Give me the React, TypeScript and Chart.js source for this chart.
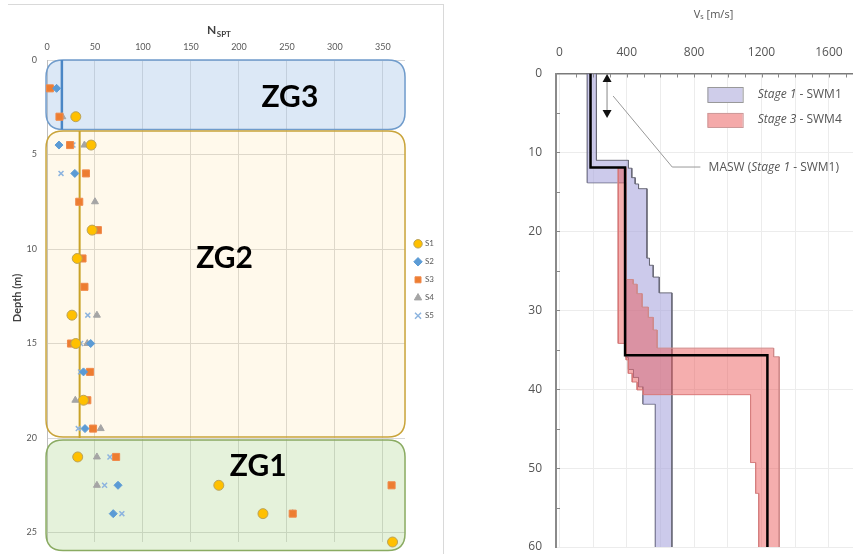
import React, { useEffect, useRef } from 'react';
import { Chart, registerables } from 'chart.js';

Chart.register(...registerables);

const FONT = 'Lato, "Open Sans", sans-serif';
const FONT_R = '"Open Sans", "Noto Sans", sans-serif';

// ---------------- Left panel: N_SPT vs depth ----------------
const DEPTHS = [1.5, 3, 4.5, 6, 7.5, 9, 10.5, 12, 13.5, 15, 16.5, 18, 19.5, 21, 22.5, 24, 25.5];
const S1 = [null, 30, 46, null, null, 47, 31.5, null, 26, 30, null, 38, null, 32, 179, 225, 360];
const S2 = [10, null, 12.5, 29, null, null, null, null, null, 45.5, 38, null, 39.6, null, 74, 69, null];
const S3 = [3, 13, 24, 40.6, 33.6, 53, 37, 39, null, 25, 44.8, 42, 48, 72, 359, 256, null];
const S4 = [null, 16, 39, null, 50, null, null, null, 52, 42, null, 29.5, 56, 52, 52, 256, null];
const S5 = [5, 14, 27, 14.6, 33, null, null, null, 42.5, 35, 35, null, 32.6, 65.6, 60, 78, null];
const SERIES_NAMES = ['S1', 'S2', 'S3', 'S4', 'S5'];

const NSPT_TICKS = [0, 50, 100, 150, 200, 250, 300, 350];
const DEPTH_TICKS = [0, 5, 10, 15, 20, 25];

const ZONE_NAMES = ['ZG3', 'ZG2', 'ZG1'];
const ZONE_TOP = [0, 3.75, 20.1];
const ZONE_BOTTOM = [3.68, 19.95, 25.95];
const ZONE_FILL = ['rgba(155,190,230,0.35)', 'rgba(255,215,120,0.15)', 'rgba(150,205,110,0.25)'];
const ZONE_STROKE = ['#6f9bcb', '#c9a43a', '#8aab62'];
const ZONE_LABEL_X = [253, 185, 220];
const ZONE_LABEL_DEPTH = [1.95, 10.5, 21.5];

const AVG_VALUE = [15.5, 34];
const AVG_TOP = [0, 3.75];
const AVG_BOTTOM = [3.68, 20.0];

// ---------------- Right panel: Vs profiles ----------------
const MASW_VS = [185, 185, 390, 390, 1235, 1235];
const MASW_DEPTH = [0, 11.9, 11.9, 35.7, 35.7, 60];

const ST1_UP_VS = [220, 220, 410, 410, 430, 430, 450, 450, 470, 470, 520, 520, 535, 535, 557, 557, 593, 593, 668, 668];
const ST1_UP_D = [0, 11.0, 11.0, 12.0, 12.0, 13.2, 13.2, 14.0, 14.0, 14.6, 14.6, 23.4, 23.4, 24.3, 24.3, 25.8, 25.8, 27.8, 27.8, 60];
const ST1_LO_VS = [166, 166, 395, 395, 410, 410, 440, 440, 470, 470, 497, 497, 570, 570];
const ST1_LO_D = [0, 13.85, 13.85, 36.0, 36.0, 37.5, 37.5, 38.5, 38.5, 39.7, 39.7, 41.9, 41.9, 60];

const ST3_UP_VS = [395, 395, 438, 438, 461, 461, 491, 491, 528, 528, 557, 557, 580, 580, 1272, 1272, 1305, 1305];
const ST3_UP_D = [11.9, 26.1, 26.1, 26.7, 26.7, 27.9, 27.9, 29.6, 29.6, 30.9, 30.9, 32.5, 32.5, 34.8, 34.8, 35.9, 35.9, 60];
const ST3_LO_VS = [349, 349, 396, 396, 409, 409, 432, 432, 461, 461, 497, 497, 1135, 1135, 1165, 1165, 1183, 1183];
const ST3_LO_D = [11.9, 34.2, 34.2, 36.3, 36.3, 38.0, 38.0, 39.1, 39.1, 40.1, 40.1, 40.7, 40.7, 49.3, 49.3, 53.2, 53.2, 60];

const VS_GRID_TICKS = [0, 200, 400, 600, 800, 1000, 1200, 1400, 1600, 1800];
const VS_MINOR_TICKS = [100, 200, 300, 400, 500, 600, 700, 800, 900, 1000, 1100, 1200, 1300, 1400, 1500, 1600, 1700, 1800];
const VS_DEPTH_TICKS = [0, 10, 20, 30, 40, 50, 60];
const VS_DEPTH_MINOR = [5, 10, 15, 20, 25, 30, 35, 40, 45, 50, 55];

// annotation anchors (data units)
const ARROW_VS = 283;
const ARROW_DEPTH = [0.05, 5.65];
const LEADER_VS = [319, 670, 837];
const LEADER_DEPTH = [2.85, 11.85, 11.85];
const MASW_LABEL = { vs: 886, depth: 11.97 };
const LEGEND_BOX_VS = [879, 1088];
const LEGEND_BOX_D = [[1.71, 3.61], [5.0, 6.78]];
const LEGEND_TEXT_VS = 1177;
const LEGEND_TEXT_D = [2.72, 5.9];
const LEGEND_STAGE = ['Stage 1', 'Stage 3'];
const LEGEND_REST = [' - SWM1', ' - SWM4'];

const toSeries = (vals: (number | null)[]) =>
  DEPTHS.map((d, i) => (vals[i] == null ? null : { x: vals[i] as number, y: d })).filter(Boolean) as { x: number; y: number }[];
const pts = (xs: number[], ys: number[]) => xs.map((x, i) => ({ x, y: ys[i] }));

const noPad = (s: any) => {
  s.paddingTop = 0;
  s.paddingBottom = 0;
  s.paddingLeft = 0;
  s.paddingRight = 0;
};

function roundRect(ctx: CanvasRenderingContext2D, x: number, y: number, w: number, h: number, r: number) {
  ctx.beginPath();
  ctx.moveTo(x + r, y);
  ctx.lineTo(x + w - r, y);
  ctx.quadraticCurveTo(x + w, y, x + w, y + r);
  ctx.lineTo(x + w, y + h - r);
  ctx.quadraticCurveTo(x + w, y + h, x + w - r, y + h);
  ctx.lineTo(x + r, y + h);
  ctx.quadraticCurveTo(x, y + h, x, y + h - r);
  ctx.lineTo(x, y + r);
  ctx.quadraticCurveTo(x, y, x + r, y);
  ctx.closePath();
}

const leftPlugin = {
  id: 'leftZones',
  beforeDatasetsDraw(chart: any) {
    const { ctx, scales } = chart;
    const x = scales.x, y = scales.y;
    ctx.save();
    ZONE_NAMES.forEach((_, i) => {
      const x0 = x.getPixelForValue(-1);
      const x1 = x.getPixelForValue(373);
      const y0 = y.getPixelForValue(ZONE_TOP[i]);
      const y1 = y.getPixelForValue(ZONE_BOTTOM[i]);
      roundRect(ctx, x0, y0, x1 - x0, y1 - y0, 17);
      ctx.fillStyle = ZONE_FILL[i];
      ctx.fill();
      ctx.lineWidth = 1.5;
      ctx.strokeStyle = ZONE_STROKE[i];
      ctx.stroke();
    });
    ctx.restore();
  },
  afterDatasetsDraw(chart: any) {
    const { ctx, scales, chartArea } = chart;
    const x = scales.x, y = scales.y;
    ctx.save();
    ctx.fillStyle = '#000';
    ctx.font = `bold 30px ${FONT}`;
    ctx.textAlign = 'center';
    ctx.textBaseline = 'middle';
    ZONE_NAMES.forEach((n, i) => {
      ctx.fillText(n, x.getPixelForValue(ZONE_LABEL_X[i]), y.getPixelForValue(ZONE_LABEL_DEPTH[i]));
    });
    // axis titles
    ctx.fillStyle = '#404040';
    ctx.textAlign = 'left';
    ctx.textBaseline = 'alphabetic';
    ctx.font = `bold 12px ${FONT}`;
    const nx = chartArea.left + 160;
    ctx.fillText('N', nx, 34);
    const nw = ctx.measureText('N').width;
    ctx.font = `bold 8px ${FONT}`;
    ctx.fillText('SPT', nx + nw + 0.5, 37);
    ctx.save();
    ctx.translate(17, 298);
    ctx.rotate(-Math.PI / 2);
    ctx.textAlign = 'center';
    ctx.textBaseline = 'middle';
    ctx.font = `bold 11px ${FONT}`;
    ctx.fillText('Depth (m)', 0, 0);
    ctx.restore();
    ctx.restore();
  },
};

const rightPlugin = {
  id: 'rightAnnot',
  afterDatasetsDraw(chart: any) {
    const { ctx, scales, chartArea } = chart;
    const x = scales.x, y = scales.y;
    ctx.save();
    // inward minor ticks
    ctx.strokeStyle = '#888';
    ctx.lineWidth = 1;
    VS_MINOR_TICKS.forEach((v) => {
      const px = Math.round(x.getPixelForValue(v)) + 0.5;
      ctx.beginPath();
      ctx.moveTo(px, chartArea.top);
      ctx.lineTo(px, chartArea.top + 4);
      ctx.stroke();
    });
    VS_DEPTH_MINOR.forEach((d) => {
      const py = Math.round(y.getPixelForValue(d)) + 0.5;
      ctx.beginPath();
      ctx.moveTo(chartArea.left, py);
      ctx.lineTo(chartArea.left + 4, py);
      ctx.stroke();
    });
    // double arrow
    const ax = x.getPixelForValue(ARROW_VS);
    const ay1 = y.getPixelForValue(ARROW_DEPTH[0]);
    const ay2 = y.getPixelForValue(ARROW_DEPTH[1]);
    ctx.strokeStyle = '#888';
    ctx.beginPath();
    ctx.moveTo(ax, ay1 + 6);
    ctx.lineTo(ax, ay2 - 6);
    ctx.stroke();
    ctx.fillStyle = '#111';
    ctx.beginPath();
    ctx.moveTo(ax, ay1);
    ctx.lineTo(ax - 4.5, ay1 + 8);
    ctx.lineTo(ax + 4.5, ay1 + 8);
    ctx.closePath();
    ctx.fill();
    ctx.beginPath();
    ctx.moveTo(ax, ay2);
    ctx.lineTo(ax - 4.5, ay2 - 8);
    ctx.lineTo(ax + 4.5, ay2 - 8);
    ctx.closePath();
    ctx.fill();
    // leader line
    ctx.strokeStyle = '#999';
    ctx.beginPath();
    LEADER_VS.forEach((v, i) => {
      const px = x.getPixelForValue(v), py = y.getPixelForValue(LEADER_DEPTH[i]);
      if (i === 0) ctx.moveTo(px, py); else ctx.lineTo(px, py);
    });
    ctx.stroke();
    // mixed-style text helper
    const drawMixed = (parts: [string, boolean][], px: number, py: number) => {
      let cx = px;
      parts.forEach(([t, it]) => {
        ctx.font = `${it ? 'italic ' : ''}12px ${FONT_R}`;
        ctx.fillText(t, cx, py);
        cx += ctx.measureText(t).width;
      });
    };
    ctx.fillStyle = '#555';
    ctx.textBaseline = 'middle';
    ctx.textAlign = 'left';
    drawMixed([['MASW (', false], ['Stage 1', true], [' - SWM1)', false]], x.getPixelForValue(MASW_LABEL.vs), y.getPixelForValue(MASW_LABEL.depth));
    // legend boxes
    const boxFill = ['#cfcdea', '#f4a9a9'];
    const boxStroke = ['#999', '#c99'];
    LEGEND_BOX_D.forEach((dd, i) => {
      const bx0 = x.getPixelForValue(LEGEND_BOX_VS[0]);
      const bx1 = x.getPixelForValue(LEGEND_BOX_VS[1]);
      const by0 = y.getPixelForValue(dd[0]);
      const by1 = y.getPixelForValue(dd[1]);
      ctx.fillStyle = boxFill[i];
      ctx.fillRect(bx0, by0, bx1 - bx0, by1 - by0);
      ctx.strokeStyle = boxStroke[i];
      ctx.strokeRect(bx0 + 0.5, by0 + 0.5, bx1 - bx0, by1 - by0);
      ctx.fillStyle = '#555';
      drawMixed([[LEGEND_STAGE[i], true], [LEGEND_REST[i], false]], x.getPixelForValue(LEGEND_TEXT_VS), y.getPixelForValue(LEGEND_TEXT_D[i]));
    });
    ctx.restore();
  },
};

function LeftChart() {
  const ref = useRef<HTMLCanvasElement>(null);
  useEffect(() => {
    const colors = ['#ffc000', '#5b9bd5', '#ed7d31', '#a5a5a5', '#9dc3e6'];
    const borders = ['#b9a25a', '#5b9bd5', '#f08a4b', '#a5a5a5', '#8db4df'];
    const styles = ['circle', 'rectRot', 'rect', 'triangle', 'crossRot'];
    const radii = [5, 4, 5, 4, 3.5];
    const vals = [S1, S2, S3, S4, S5];
    const datasets: any[] = vals.map((v, i) => ({
      label: SERIES_NAMES[i],
      data: toSeries(v),
      backgroundColor: colors[i],
      borderColor: borders[i],
      borderWidth: i === 4 ? 1.5 : 1,
      pointStyle: styles[i],
      pointRadius: radii[i],
      clip: false,
      order: 1,
    }));
    AVG_VALUE.forEach((v, i) => {
      datasets.push({
        label: 'avg' + i,
        data: [{ x: v, y: AVG_TOP[i] }, { x: v, y: AVG_BOTTOM[i] }],
        showLine: true,
        borderColor: i === 0 ? '#4a86c5' : '#c9a227',
        borderWidth: i === 0 ? 2.5 : 2,
        pointRadius: 0,
        order: 2,
      });
    });
    const chart = new Chart(ref.current as HTMLCanvasElement, {
      type: 'scatter',
      data: { datasets },
      plugins: [leftPlugin],
      options: {
        animation: false,
        responsive: false,
        maintainAspectRatio: false,
        layout: { padding: { left: 0, right: 0, top: 0, bottom: 12 } },
        plugins: {
          tooltip: { enabled: false },
          legend: {
            position: 'right',
            align: 'center',
            title: { display: true, text: ' ', font: { size: 8 }, padding: 4 },
            labels: {
              usePointStyle: true,
              boxWidth: 6,
              boxHeight: 6,
              padding: 10,
              color: '#595959',
              font: { size: 8, family: FONT },
              filter: (item: any) => item.datasetIndex < 5,
            },
          },
        },
        scales: {
          x: {
            type: 'linear',
            position: 'top',
            min: 0,
            max: 373,
            afterBuildTicks: (s: any) => { s.ticks = NSPT_TICKS.map((v) => ({ value: v })); },
            afterFit: (s: any) => { s.height = 60; noPad(s); },
            grid: { color: '#d9d9d9', drawTicks: false },
            border: { display: false },
            ticks: { padding: 8, color: '#595959', font: { size: 9, family: FONT } },
          },
          y: {
            type: 'linear',
            reverse: true,
            min: 0,
            max: 25.5,
            afterBuildTicks: (s: any) => { s.ticks = DEPTH_TICKS.map((v) => ({ value: v })); },
            afterFit: (s: any) => { s.width = 47; noPad(s); },
            grid: { color: '#d9d9d9', drawTicks: false },
            border: { display: true, color: '#bfbfbf' },
            ticks: { padding: 10, color: '#595959', font: { size: 9, family: FONT } },
          },
        },
      } as any,
    });
    return () => chart.destroy();
  }, []);
  return <canvas ref={ref} width={444} height={554} style={{ position: 'absolute', left: 0, top: 0, width: 444, height: 554 }} />;
}

function RightChart() {
  const ref = useRef<HTMLCanvasElement>(null);
  useEffect(() => {
    const line = (xs: number[], ys: number[], extra: any) => ({
      data: pts(xs, ys),
      pointRadius: 0,
      tension: 0,
      ...extra,
    });
    const pinkEdge = '#cf8a8a';
    const purpleEdge = '#6a6a78';
    const chart = new Chart(ref.current as HTMLCanvasElement, {
      type: 'line',
      data: {
        datasets: [
          line(MASW_VS, MASW_DEPTH, { label: 'MASW (Stage 1 - SWM1)', borderColor: '#000', borderWidth: 2.5, fill: false }),
          line(ST3_UP_VS, ST3_UP_D, { label: 'Stage 3 - SWM4 up', borderColor: pinkEdge, borderWidth: 1, fill: '+1', backgroundColor: 'rgba(235,85,85,0.48)' }),
          line(ST3_LO_VS, ST3_LO_D, { label: 'Stage 3 - SWM4 low', borderColor: pinkEdge, borderWidth: 1, fill: false }),
          line(ST1_UP_VS, ST1_UP_D, { label: 'Stage 1 - SWM1 up', borderColor: purpleEdge, borderWidth: 1, fill: '+1', backgroundColor: 'rgba(170,167,222,0.6)' }),
          line(ST1_LO_VS, ST1_LO_D, { label: 'Stage 1 - SWM1 low', borderColor: purpleEdge, borderWidth: 1, fill: false }),
        ],
      },
      plugins: [rightPlugin],
      options: {
        animation: false,
        responsive: false,
        maintainAspectRatio: false,
        indexAxis: 'y',
        layout: { padding: { left: 0, right: 14, top: 0, bottom: 7 } },
        plugins: { legend: { display: false }, tooltip: { enabled: false } },
        scales: {
          x: {
            type: 'linear',
            position: 'top',
            min: -20,
            max: 1850,
            afterBuildTicks: (s: any) => { s.ticks = VS_GRID_TICKS.map((v) => ({ value: v })); },
            afterFit: (s: any) => { s.height = 73.5; noPad(s); },
            grid: { color: '#ececec', drawTicks: false },
            border: { display: true, color: '#7a7a7a', width: 1.5 },
            title: { display: true, text: 'Vₛ [m/s]', color: '#555', font: { size: 11, family: FONT_R }, padding: { top: 8, bottom: 0 } },
            ticks: {
              padding: 14,
              color: '#555',
              font: { size: 12, family: FONT_R },
              callback: (v: any) => (Number(v) % 400 === 0 ? String(v) : ''),
            },
          },
          y: {
            type: 'linear',
            reverse: true,
            min: 0,
            max: 60,
            afterBuildTicks: (s: any) => { s.ticks = VS_DEPTH_TICKS.map((v) => ({ value: v })); },
            afterFit: (s: any) => { s.width = 111; noPad(s); },
            grid: { color: '#ececec', drawTicks: false },
            border: { display: true, color: '#8a8a8a', width: 2 },
            ticks: { padding: 14, color: '#555', font: { size: 12, family: FONT_R } },
          },
        },
      } as any,
    });
    return () => chart.destroy();
  }, []);
  return <canvas ref={ref} width={440} height={554} style={{ position: 'absolute', left: 445, top: 0, width: 440, height: 554 }} />;
}

export default function App() {
  useEffect(() => {
    document.body.style.margin = '0';
  }, []);
  return (
    <div style={{ position: 'relative', width: 853, height: 554, overflow: 'hidden', background: '#fff' }}>
      <LeftChart />
      <RightChart />
      <div
        style={{
          position: 'absolute',
          left: 8,
          top: 4,
          width: 436,
          height: 560,
          borderTop: '1px solid #d9d9d9',
          borderRight: '1px solid #d9d9d9',
          boxSizing: 'border-box',
          pointerEvents: 'none',
        }}
      />
    </div>
  );
}
